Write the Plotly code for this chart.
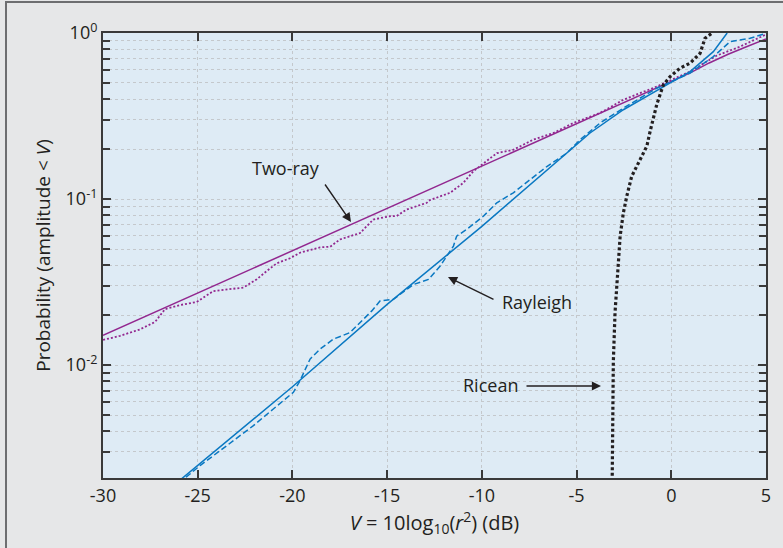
import plotly.graph_objects as go

# ---------------- data ----------------
# Two-ray model (solid purple)
tworay_v = [-30, -25, -20, -15, -10, -5, 0, 1, 2, 3, 4, 5]
tworay_p = [0.0151, 0.0272, 0.049, 0.088, 0.158, 0.285, 0.513, 0.575, 0.66, 0.745, 0.83, 0.92]

# Two-ray measured (dotted purple)
tworay_meas_v = [-30.2, -29.1, -28.05, -27.25, -26.73, -25.93, -25.05, -24.18, -22.59, -21.88, -21.36,
                 -20.83, -20.13, -19.6, -18.54, -18.01, -17.49, -16.43, -15.73, -14.85, -14.5, -13.97,
                 -12.91, -12.74, -11.68, -10.98, -10.45, -9.74, -9.21, -8.34, -7.28, -6.22, -5.17,
                 -3.76, -2.53, -0.77, 0.99, 2.4, 3.63, 5.0]
tworay_meas_p = [0.0140, 0.0150, 0.0164, 0.0182, 0.0217, 0.0230, 0.0240, 0.0279, 0.0293, 0.0329, 0.0368,
                 0.041, 0.044, 0.0475, 0.0512, 0.0516, 0.0571, 0.0624, 0.0753, 0.0788, 0.079, 0.0865,
                 0.0949, 0.0986, 0.109, 0.125, 0.147, 0.169, 0.189, 0.198, 0.228, 0.25, 0.287,
                 0.33, 0.396, 0.476, 0.586, 0.731, 0.828, 0.98]

# Rayleigh model (solid blue)
rayleigh_v = [-26, -20, -15, -10, -4.29, -2.53, -0.24, 0.99, 2.22, 2.95]
rayleigh_p = [0.0020, 0.0074, 0.0232, 0.0685, 0.25, 0.345, 0.487, 0.586, 0.772, 1.0]

# Rayleigh measured (dashed blue)
rayleigh_meas_v = [-25.62, -24.88, -23.47, -22.06, -21.01, -19.95, -19.6, -19.07, -18.54, -17.84, -16.96,
                   -15.81, -15.38, -14.67, -13.61, -12.82, -12.2, -11.5, -11.33, -10.8, -9.92, -9.21,
                   -8.34, -7.46, -6.57, -5.52, -4.81, -3.76, -2.53, -0.77, 0.99, 2.22, 3.1, 4.16, 5.0]
rayleigh_meas_p = [0.00211, 0.00248, 0.00327, 0.00432, 0.00544, 0.00686, 0.00805, 0.01087, 0.01248, 0.01433,
                   0.0157, 0.0212, 0.0243, 0.0249, 0.0306, 0.0328, 0.0395, 0.0521, 0.0598, 0.0656, 0.0788,
                   0.0949, 0.109, 0.131, 0.157, 0.189, 0.228, 0.287, 0.353, 0.465, 0.573, 0.721, 0.887,
                   0.929, 0.995]

# Ricean (dotted black)
ricean_v = [-3.12, -3.06, -2.97, -2.88, -2.79, -2.70, -2.53, -2.35, -2.09, -1.65, -1.29, -1.12,
            -0.77, -0.42, -0.06, 0.46, 0.99, 1.52, 1.78, 2.15]
ricean_p = [0.0020, 0.0104, 0.0207, 0.0314, 0.0453, 0.0598, 0.0826, 0.104, 0.137, 0.173, 0.208, 0.255,
            0.37, 0.487, 0.547, 0.614, 0.658, 0.755, 0.929, 1.0]

x_ticks = [-30, -25, -20, -15, -10, -5, 0, 5]
y_major = [1e-2, 1e-1, 1]
y_major_text = ["10<sup>-2</sup>", "10<sup>-1</sup>", "10<sup>0</sup>"]
y_minor = [m * 10.0 ** e for e in (-3, -2, -1) for m in range(2, 10) if m * 10.0 ** e > 0.002]

# ---------------- styling ----------------
FONT = "Open Sans"
TXT = "#231f20"
PURPLE = "#92278f"
BLUE = "#0a78c2"
GRID = "#c4c8cc"
X0, X1 = -30, 5
YLOG0, YLOG1 = -2.68, 0.0

fig = go.Figure()
fig.add_trace(go.Scatter(x=tworay_v, y=tworay_p, mode="lines",
                         line=dict(color=PURPLE, width=1.5), name="Two-ray"))
fig.add_trace(go.Scatter(x=tworay_meas_v, y=tworay_meas_p, mode="lines",
                         line=dict(color=PURPLE, width=1.8, dash="2px,2px"), name="Two-ray measured"))
fig.add_trace(go.Scatter(x=rayleigh_v, y=rayleigh_p, mode="lines",
                         line=dict(color=BLUE, width=1.5), name="Rayleigh"))
fig.add_trace(go.Scatter(x=rayleigh_meas_v, y=rayleigh_meas_p, mode="lines",
                         line=dict(color=BLUE, width=1.5, dash="6px,3px"), name="Rayleigh measured"))
fig.add_trace(go.Scatter(x=ricean_v, y=ricean_p, mode="lines",
                         line=dict(color=TXT, width=3.2, dash="3px,2.5px"), name="Ricean"))

# plot-area pixel geometry (for placing the labels)
L, R, T, B = 103, 766, 33, 478


def xd(px):
    return X0 + (px - L) / (R - L) * (X1 - X0)


def yd(py):
    return YLOG1 - (py - T) / (B - T) * (YLOG1 - YLOG0)


labels = [("Two-ray", 286, 168), ("Rayleigh", 537, 302), ("Ricean", 490, 385)]
for txt, px, py in labels:
    fig.add_annotation(x=xd(px), y=yd(py), text=txt, showarrow=False,
                       font=dict(family=FONT, size=18, color=TXT))

arrows = [((324, 183), (351, 222)), ((495, 300), (448, 277)), ((525, 386), (601, 386))]
for (tx, ty), (hx, hy) in arrows:
    fig.add_annotation(x=xd(hx), y=yd(hy), ax=xd(tx), ay=yd(ty), axref="x", ayref="y",
                       text="", showarrow=True, arrowhead=2, arrowsize=1.3, arrowwidth=1.4,
                       arrowcolor=TXT)

# outer frame
fig.add_shape(type="rect", xref="paper", yref="paper",
              x0=(6 - L) / (R - L), x1=(800 - L) / (R - L),
              y0=1 - (560 - T) / (B - T), y1=1 + (T - 2) / (B - T),
              line=dict(color="#6d6e70", width=2), fillcolor="rgba(0,0,0,0)", layer="above")

axis_common = dict(showline=True, linecolor="#3a3a3a", linewidth=2, mirror="ticks",
                   ticks="inside", tickcolor="#3a3a3a", tickwidth=2, ticklen=8,
                   showgrid=True, gridcolor=GRID, gridwidth=1, griddash="3px,3px",
                   zeroline=False, tickfont=dict(family=FONT, size=18, color=TXT))

fig.update_xaxes(range=[X0, X1], tickvals=x_ticks, ticktext=[str(v) for v in x_ticks],
                 title=dict(text="<i>V</i> = 10log<sub>10</sub>(<i>r</i><sup>2</sup>) (dB)",
                            font=dict(family=FONT, size=20, color=TXT), standoff=3),
                 **axis_common)
fig.update_yaxes(type="log", range=[YLOG0, YLOG1], tickvals=y_major, ticktext=y_major_text,
                 minor=dict(tickvals=y_minor, ticks="inside", ticklen=7, tickwidth=2,
                            tickcolor="#3a3a3a", showgrid=True, gridcolor=GRID,
                            griddash="3px,3px", gridwidth=1),
                 title=dict(text="Probability (amplitude &lt; <i>V</i>)",
                            font=dict(family=FONT, size=19, color=TXT), standoff=10),
                 **axis_common)

fig.update_layout(width=783, height=548, margin=dict(l=L, r=783 - R, t=T, b=548 - B),
                  paper_bgcolor="#e6e7e8", plot_bgcolor="#deebf5",
                  showlegend=False, font=dict(family=FONT, color=TXT))

fig.write_html("out.html")
